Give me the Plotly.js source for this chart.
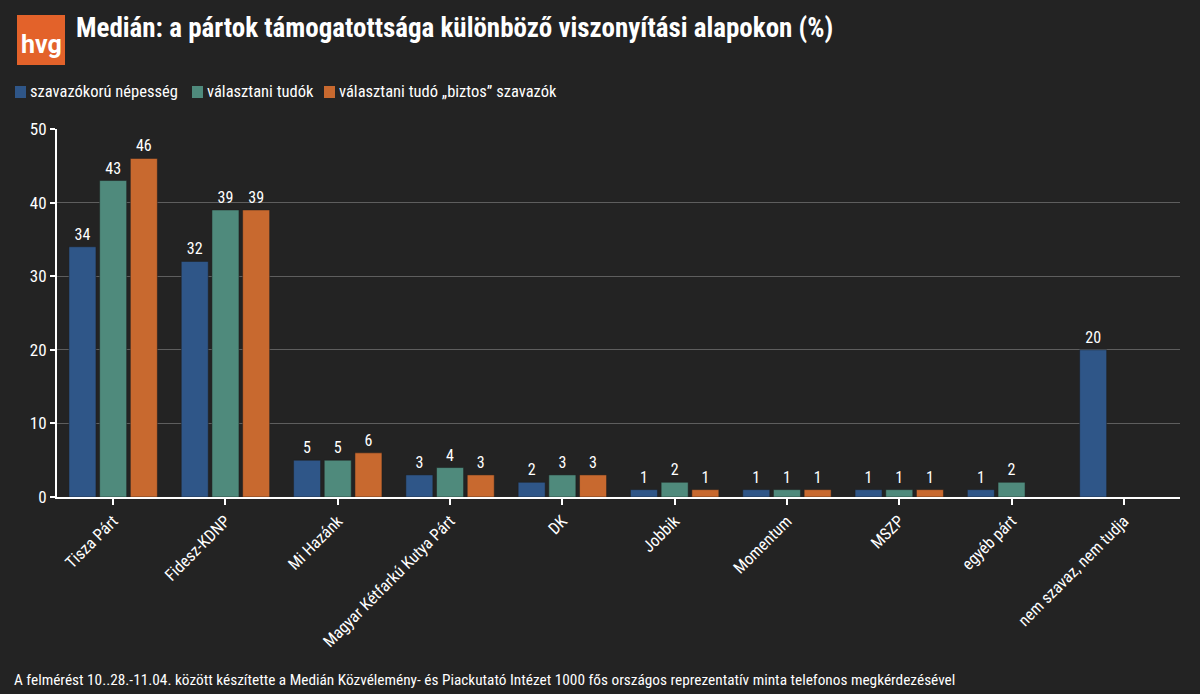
<!DOCTYPE html>
<html>
<head>
<meta charset="utf-8">
<script src="https://cdn.plot.ly/plotly-3.0.1.min.js"></script>
<style>
html,body{margin:0;padding:0;background:#232323;}
#chart{width:1200px;height:694px;}
</style>
</head>
<body>
<div id="chart"></div>
<script>
const categories = ["Tisza Párt","Fidesz-KDNP","Mi Hazánk","Magyar Kétfarkú Kutya Párt","DK","Jobbik","Momentum","MSZP","egyéb párt","nem szavaz, nem tudja"];
const seriesNames = ["szavazókorú népesség","választani tudók","választani tudó „biztos” szavazók"];
const nepesseg = [34,32,5,3,2,1,1,1,1,20];
const tudok = [43,39,5,4,3,2,1,1,2,null];
const biztos = [46,39,6,3,3,1,1,1,null,null];
const colors = ["#2f5688","#4f8a7c","#c8692f"];
const yTicks = [0,10,20,30,40,50];

const FONT = "'Roboto Condensed','Liberation Sans Narrow','DejaVu Sans Condensed',Roboto,sans-serif";

const series = [nepesseg, tudok, biztos];
const traces = series.map((vals, i) => ({
  type: "bar",
  name: seriesNames[i],
  x: categories,
  y: vals,
  marker: {color: colors[i], line: {color: "#1e1e1e", width: 0.5}},
  text: vals.map(v => v == null ? "" : String(v)),
  textposition: "outside",
  cliponaxis: false,
  textfont: {color: "#ffffff", size: 16, family: FONT},
  showlegend: false,
  hoverinfo: "x+y"
}));

const layout = {
  width: 1200, height: 694,
  paper_bgcolor: "#232323",
  plot_bgcolor: "#232323",
  font: {family: FONT, color: "#ffffff"},
  margin: {l: 57, r: 20, t: 129, b: 197},
  barmode: "group",
  bargap: 0.18,
  bargroupgap: 0.12,
  showlegend: false,
  xaxis: {
    type: "category",
    tickangle: -45,
    tickfont: {size: 16.5, color: "#ffffff", family: FONT},
    ticks: "outside", ticklen: 6, tickcolor: "#ffffff", tickwidth: 2,
    showline: true, linecolor: "#ffffff", linewidth: 2,
    showgrid: false, zeroline: false
  },
  yaxis: {
    range: [0, 50],
    tickvals: yTicks,
    tickfont: {size: 17, color: "#ffffff", family: FONT},
    ticks: "outside", ticklen: 5, tickcolor: "#ffffff", tickwidth: 2,
    showline: true, linecolor: "#ffffff", linewidth: 2,
    showgrid: true, gridcolor: "#5e5e5e", gridwidth: 1,
    zeroline: false
  },
  shapes: [
    {type: "rect", xref: "paper", yref: "paper", x0: -40/1123, x1: 8/1123, y0: 1 + (129-65)/368, y1: 1 + (129-15)/368,
     fillcolor: "#e3622a", line: {width: 0}, layer: "above"}
  ],
  annotations: [
    {xref: "paper", yref: "paper", x: -16/1123, y: 1 + (129-44)/368, text: "<b>hvg</b>", showarrow: false,
     font: {size: 25, color: "#ffffff", family: "Roboto, sans-serif"}, xanchor: "center", yanchor: "middle"},
    {xref: "paper", yref: "paper", x: 17/1123, y: 1 + (129-28)/368, text: "<b>Medián: a pártok támogatottsága különböző viszonyítási alapokon (%)</b>",
     showarrow: false, xanchor: "left", yanchor: "middle", font: {size: 27, color: "#ffffff", family: FONT}},
    {xref: "paper", yref: "paper", x: -45/1123, y: -(680-497)/368, text: "A felmérést 10..28.-11.04. között készítette a Medián Közvélemény- és Piackutató Intézet 1000 fős országos reprezentatív minta telefonos megkérdezésével",
     showarrow: false, xanchor: "left", yanchor: "middle", font: {size: 15.3, color: "#ffffff", family: FONT}}
  ]
};

// legend drawn as annotations + shapes (positions only; labels come from seriesNames)
const legendX = [15, 192, 324];
seriesNames.forEach((n, i) => {
  const px = legendX[i];
  layout.shapes.push({type: "rect", xref: "paper", yref: "paper",
    x0: (px-57)/1123, x1: (px+11-57)/1123, y0: 1 + (129-98)/368, y1: 1 + (129-86)/368,
    fillcolor: colors[i], line: {width: 0}});
  layout.annotations.push({xref: "paper", yref: "paper", x: (px+13-57)/1123, y: 1 + (129-92)/368,
    text: n, showarrow: false, xanchor: "left", yanchor: "middle",
    font: {size: 16.5, color: "#ffffff", family: FONT}});
});

Plotly.newPlot("chart", traces, layout, {displayModeBar: false, staticPlot: true});
</script>
</body>
</html>
